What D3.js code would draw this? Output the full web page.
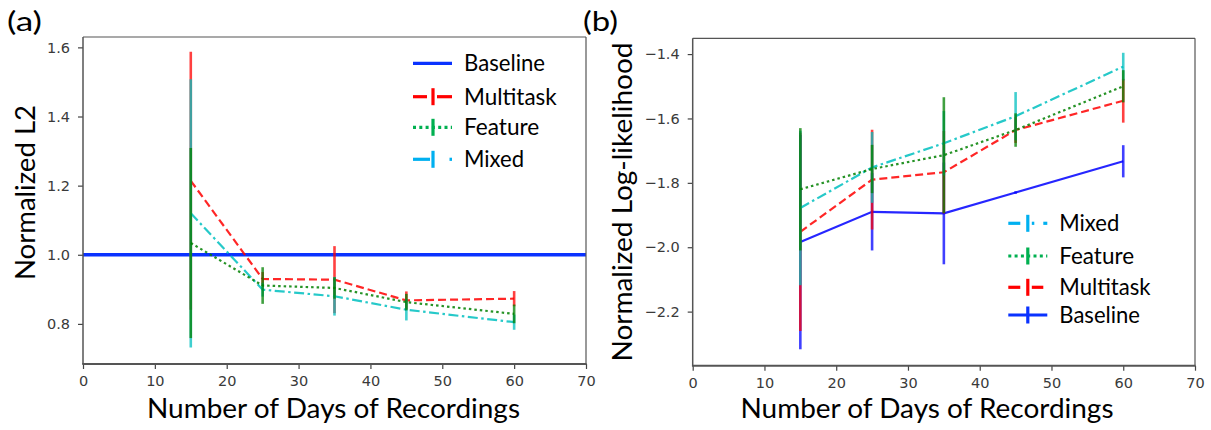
<!DOCTYPE html>
<html>
<head>
<meta charset="utf-8">
<style>
body { margin: 0; background: #fff; }
.label { font-family: Lato, "Open Sans", sans-serif; fill: #000; }
.spine { stroke: #555; fill: none; }
</style>
</head>
<body>

<svg id="chart" width="1211" height="430"></svg>

<script src="https://d3js.org/d3.v7.min.js"></script>
<script>

// shared x values and ticks
var days = [15, 25, 35, 45, 60];
var xTicks = [0, 10, 20, 30, 40, 50, 60, 70];
var l2Ticks = [0.8, 1.0, 1.2, 1.4, 1.6];
var llTicks = [-2.2, -2.0, -1.8, -1.6, -1.4];

// (a) Normalized L2
var l2BaselineDays = [0, 70];
var l2Baseline = [1.0, 1.0];
var l2Multitask = [1.214, 0.930, 0.928, 0.868, 0.873];
var l2MultitaskErr = [0.373, 0.020, 0.097, 0.026, 0.022];
var l2Feature = [1.034, 0.911, 0.904, 0.863, 0.829];
var l2FeatureErr = [0.275, 0.053, 0.031, 0.024, 0.027];
var l2Mixed = [1.120, 0.899, 0.880, 0.841, 0.805];
var l2MixedErr = [0.388, 0.020, 0.056, 0.031, 0.022];

// (b) Normalized log-likelihood
var llBaseline = [-1.984, -1.890, -1.895, -1.830, -1.733];
var llBaselineErr = [0.333, 0.120, 0.158, 0.004, 0.050];
var llMultitask = [-1.952, -1.790, -1.767, -1.636, -1.545];
var llMultitaskErr = [0.308, 0.155, 0.128, 0.040, 0.068];
var llMixed = [-1.878, -1.752, -1.677, -1.593, -1.439];
var llMixedErr = [0.240, 0.110, 0.100, 0.075, 0.043];
var llFeature = [-1.820, -1.757, -1.714, -1.636, -1.500];
var llFeatureErr = [0.190, 0.075, 0.180, 0.052, 0.050];

var legendA = ["Baseline", "Multitask", "Feature", "Mixed"];
var legendB = ["Mixed", "Feature", "Multitask", "Baseline"];

var svg = d3.select("#chart");

var styles = {
    Baseline:  {color: "#0000ff", dash: null, legend: "#0a32ff"},
    Multitask: {color: "#ff0000", dash: "8,4", legend: "#ff0000"},
    Feature:   {color: "#008000", dash: "2.5,3", legend: "#00b050"},
    Mixed:     {color: "#00bfbf", dash: "10,3.5,2.5,3.5", legend: "#00b0f0"}
};

function styleTicks(s) {
    s.select(".domain").remove();
    s.selectAll(".tick text")
        .style("font-family", "'DejaVu Sans', sans-serif")
        .style("font-size", "14.5px")
        .style("fill", "#3a3a3a");
    s.selectAll(".tick line").attr("stroke", "#444").attr("stroke-width", 1.2);
}

function drawPanel(p) {
    var g = svg.append("g");
    var x0 = p.x.range()[0], x1 = p.x.range()[1],
        yTop = p.y.range()[1], yBot = p.y.range()[0];

    g.append("g")
        .attr("transform", "translate(0," + yBot + ")")
        .call(d3.axisBottom(p.x).tickValues(xTicks).tickSize(5).tickPadding(7).tickFormat(d3.format("d")))
        .call(styleTicks);

    g.append("g")
        .attr("transform", "translate(" + x0 + ",0)")
        .call(d3.axisLeft(p.y).tickValues(p.ticks).tickSize(5).tickPadding(8).tickFormat(d3.format(".1f")))
        .call(styleTicks);

    // series: line + error bars, drawn in order
    p.series.forEach(function(s) {
        var st = styles[s.name];
        var pts = s.days.map(function(d, i) {
            return {d: d, v: s.vals[i], e: s.errs ? s.errs[i] : 0};
        });
        g.append("path")
            .datum(pts)
            .attr("d", d3.line().x(function(d) { return p.x(d.d); }).y(function(d) { return p.y(d.v); }))
            .attr("fill", "none")
            .attr("stroke", s.flat ? st.legend : st.color)
            .attr("stroke-width", s.flat ? 3.5 : 2.2)
            .attr("stroke-opacity", s.flat ? 1 : 0.85)
            .attr("stroke-dasharray", st.dash);
        if (s.errs) {
            g.selectAll(null)
                .data(pts)
                .enter()
                .append("line")
                .attr("x1", function(d) { return p.x(d.d); })
                .attr("x2", function(d) { return p.x(d.d); })
                .attr("y1", function(d) { return p.y(d.v + d.e); })
                .attr("y2", function(d) { return p.y(d.v - d.e); })
                .attr("stroke", st.color)
                .attr("stroke-width", 2.6)
                .attr("stroke-opacity", 0.75);
        }
    });

    // spines
    g.append("line").attr("class", "spine").attr("x1", x0).attr("x2", x1).attr("y1", yTop).attr("y2", yTop).attr("stroke-width", 1.2);
    g.append("line").attr("class", "spine").attr("x1", x1).attr("x2", x1).attr("y1", yTop).attr("y2", yBot).attr("stroke-width", 1.2);
    g.append("line").attr("class", "spine").attr("x1", x0).attr("x2", x0).attr("y1", yTop).attr("y2", yBot).attr("stroke-width", 1.5);
    g.append("line").attr("class", "spine").attr("x1", x0 - 0.75).attr("x2", x1 + 0.6).attr("y1", yBot).attr("y2", yBot).attr("stroke-width", 2);

    // legend
    var lg = g.append("g");
    p.legend.forEach(function(name, i) {
        var y = p.legendY[i], lx = p.legendX;
        var col = styles[name].legend;
        var segs = p.symbols[name];
        segs.forEach(function(sg) {
            lg.append("line")
                .attr("x1", lx + sg[0]).attr("x2", lx + sg[1])
                .attr("y1", y).attr("y2", y)
                .attr("stroke", col).attr("stroke-width", 3.2)
                .attr("stroke-dasharray", sg[2] || null);
        });
        if (p.bars[name]) {
            lg.append("line")
                .attr("x1", lx + p.bars[name]).attr("x2", lx + p.bars[name])
                .attr("y1", y - 8.5).attr("y2", y + 8.5)
                .attr("stroke", col).attr("stroke-width", 3.2);
        }
        lg.append("text")
            .attr("class", "label")
            .attr("x", p.textX)
            .attr("y", y + 8)
            .attr("font-size", 24)
            .attr("textLength", p.textW[i])
            .attr("lengthAdjust", "spacingAndGlyphs")
            .text(name);
    });
}

var xA = d3.scaleLinear().domain([0, 70]).range([83, 586]);
var yA = d3.scaleLinear().domain([0.684, 1.630]).range([364, 37]);
var xB = d3.scaleLinear().domain([0, 70]).range([692.7, 1195]);
var yB = d3.scaleLinear().domain([-2.368, -1.351]).range([365.7, 38.3]);

drawPanel({
    x: xA, y: yA, ticks: l2Ticks,
    series: [
        {name: "Baseline", days: l2BaselineDays, vals: l2Baseline, flat: true},
        {name: "Multitask", days: days, vals: l2Multitask, errs: l2MultitaskErr},
        {name: "Mixed", days: days, vals: l2Mixed, errs: l2MixedErr},
        {name: "Feature", days: days, vals: l2Feature, errs: l2FeatureErr}
    ],
    legend: legendA,
    legendX: 413, legendY: [63.3, 96.7, 127.3, 159.3], textX: 464,
    textW: [81, 92.7, 75.3, 60],
    symbols: {
        Baseline: [[0, 39]],
        Multitask: [[0, 14], [24, 39]],
        Feature: [[0, 39, "3,3.3"]],
        Mixed: [[0, 17], [36.5, 39]]
    },
    bars: {Multitask: 20, Feature: 20, Mixed: 20}
});

drawPanel({
    x: xB, y: yB, ticks: llTicks,
    series: [
        {name: "Baseline", days: days, vals: llBaseline, errs: llBaselineErr},
        {name: "Multitask", days: days, vals: llMultitask, errs: llMultitaskErr},
        {name: "Mixed", days: days, vals: llMixed, errs: llMixedErr},
        {name: "Feature", days: days, vals: llFeature, errs: llFeatureErr}
    ],
    legend: legendB,
    legendX: 1008.3, legendY: [223.3, 256, 287.3, 315], textX: 1059.3,
    textW: [60, 74.7, 91.3, 80.7],
    symbols: {
        Baseline: [[0, 39]],
        Multitask: [[0, 12], [23.5, 35]],
        Feature: [[0, 39, "3,3.3"]],
        Mixed: [[0, 12], [23.5, 26], [35, 39]]
    },
    bars: {Baseline: 19.5, Multitask: 19.5, Feature: 19.5, Mixed: 19.5}
});

// panel letters and axis titles
function label(txt, x, y, w, anchor, rotate) {
    var t = svg.append("text")
        .attr("class", "label")
        .attr("font-size", 27)
        .attr("text-anchor", anchor)
        .attr("textLength", w)
        .attr("lengthAdjust", "spacingAndGlyphs")
        .text(txt);
    if (rotate) t.attr("transform", "translate(" + x + "," + y + ") rotate(-90)");
    else t.attr("x", x).attr("y", y);
}

label("(a)", 7, 31, 35, "start");
label("(b)", 583, 31, 35, "start");
label("Number of Days of Recordings", 333.5, 418, 373, "middle");
label("Number of Days of Recordings", 927, 418, 373, "middle");
label("Normalized L2", 35, 192.5, 175, "middle", true);
label("Normalized Log-likelihood", 632, 202, 319, "middle", true);

</script>
</body>
</html>
